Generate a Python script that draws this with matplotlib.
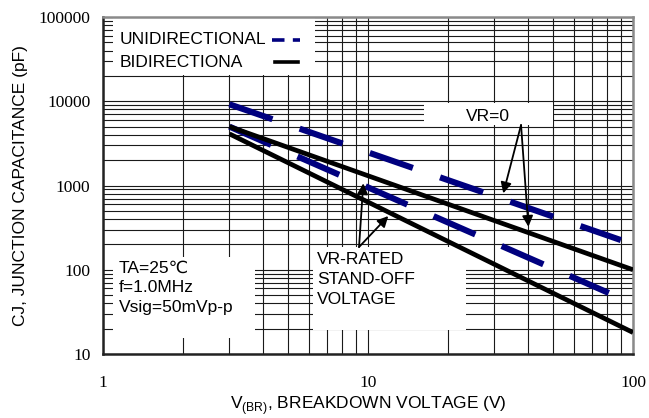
import matplotlib
matplotlib.use("Agg")
import matplotlib.pyplot as plt
from matplotlib.lines import Line2D
from matplotlib.patches import Rectangle
from matplotlib.ticker import LogLocator, NullFormatter, FixedFormatter, FixedLocator

plt.rcParams['font.family'] = ['Liberation Sans', 'DejaVu Sans']
plt.rcParams['mathtext.fontset'] = 'custom'
plt.rcParams['mathtext.rm'] = 'Liberation Sans'
plt.rcParams['lines.scale_dashes'] = False

# data (end points of the straight log-log lines)
uni_vr0_x = [3, 90]
uni_vr0_y = [9200, 225]
uni_rated_x = [3, 81]
uni_rated_y = [5000, 53]
bi_vr0_x = [3, 100]
bi_vr0_y = [5000, 100]
bi_rated_x = [3, 100]
bi_rated_y = [4100, 18]

x_ticks = [1, 10, 100]
x_tick_labels = ["1", "10", "100"]
y_ticks = [10, 100, 1000, 10000, 100000]
y_tick_labels = ["10", "100", "1000", "10000", "100000"]
legend_labels = ["UNIDIRECTIONAL", "BIDIRECTIONA"]

fig = plt.figure(figsize=(6.49, 4.18), dpi=100)
ax = fig.add_axes([103 / 649, 64 / 418, 530 / 649, 337 / 418])
ax.set_xscale("log")
ax.set_yscale("log")
ax.set_xlim(1, 100)
ax.set_ylim(10, 100000)

# grid at every 1..9 of each decade
ax.xaxis.set_major_locator(FixedLocator(x_ticks))
ax.xaxis.set_major_formatter(FixedFormatter(x_tick_labels))
ax.xaxis.set_minor_locator(LogLocator(base=10, subs=range(2, 10)))
ax.xaxis.set_minor_formatter(NullFormatter())
ax.yaxis.set_major_locator(FixedLocator(y_ticks))
ax.yaxis.set_major_formatter(FixedFormatter(y_tick_labels))
ax.yaxis.set_minor_locator(LogLocator(base=10, subs=range(2, 10)))
ax.yaxis.set_minor_formatter(NullFormatter())
ax.grid(True, which="both", color="#1a1a1a", lw=0.8)
ax.set_axisbelow(True)
ax.tick_params(which="both", length=0)
ax.tick_params(axis="x", pad=15)
ax.tick_params(axis="y", pad=9)
for lab in ax.get_xticklabels() + ax.get_yticklabels():
    lab.set_fontfamily("Liberation Serif")
    lab.set_fontsize(12.5)

for side in ["left", "bottom"]:
    ax.spines[side].set_linewidth(1.8)
    ax.spines[side].set_color("#222222")
for side in ["top", "right"]:
    ax.spines[side].set_linewidth(1.8)
    ax.spines[side].set_color("#8a8a8a")

# white masks behind the text blocks (they hide the grid)
masks = [(0.018, 0.828, 0.382, 0.172),
         (0.606, 0.6795, 0.243, 0.066),
         (0.396, 0.071, 0.289, 0.247),
         (0.018, 0.047, 0.269, 0.241)]
for mx, my, mw, mh in masks:
    ax.add_patch(Rectangle((mx, my), mw, mh, transform=ax.transAxes,
                           facecolor="white", edgecolor="none", zorder=1))

navy = "#00007f"
dash = (32.8, 20.7)
ax.plot(uni_vr0_x, uni_vr0_y, color=navy, lw=4.4, dashes=dash,
        dash_capstyle="butt", zorder=3)
ax.plot(uni_rated_x, uni_rated_y, color=navy, lw=4.4, dashes=dash,
        dash_capstyle="butt", zorder=3)
ax.plot(bi_vr0_x, bi_vr0_y, color="black", lw=3.4, solid_capstyle="butt", zorder=3)
ax.plot(bi_rated_x, bi_rated_y, color="black", lw=3.4, solid_capstyle="butt", zorder=3)

# legend: left-aligned labels with the key samples on the right
ax.text(0.032, 0.932, legend_labels[0], transform=ax.transAxes,
        ha="left", va="center", fontsize=12.5, zorder=4)
ax.text(0.032, 0.866, legend_labels[1], transform=ax.transAxes,
        ha="left", va="center", fontsize=12.5, zorder=4)
ax.add_line(Line2D([0.318, 0.372], [0.932, 0.932], transform=ax.transAxes,
                   color=navy, lw=2.6, dashes=(9, 6), zorder=4))
ax.add_line(Line2D([0.324, 0.368], [0.866, 0.866], transform=ax.transAxes,
                   color="black", lw=2.6, zorder=4))

# annotations
arrow = dict(arrowstyle="-|>", color="black", lw=1.3, mutation_scale=16,
             shrinkA=0, shrinkB=0)
ax.text(0.7264, 0.706, "VR=0", transform=ax.transAxes, ha="center",
        va="center", fontsize=12.5, zorder=4)
for tip in [(32.4, 807), (40.3, 324)]:
    ax.annotate("", xy=tip, xytext=(37.8, 5220), arrowprops=arrow, zorder=4)

ax.text(0.404, 0.303, "VR-RATED\nSTAND-OFF\nVOLTAGE", transform=ax.transAxes,
        ha="left", va="top", fontsize=12.5, linespacing=1.42, zorder=4)
for tip in [(9.6, 1062), (11.93, 434)]:
    ax.annotate("", xy=tip, xytext=(9.25, 186), arrowprops=arrow, zorder=4)

ax.text(0.0302, 0.278, "TA=25\u2103\nf=1.0MHz\nVsig=50mVp-p",
        transform=ax.transAxes, ha="left", va="top", fontsize=12.5,
        linespacing=1.42, zorder=4)

ax.set_xlabel(r"V$_{\mathrm{(BR)}}$, BREAKDOWN VOLTAGE (V)", fontsize=12.5)
ax.xaxis.set_label_coords(0.5, -0.12)
ax.set_ylabel("CJ, JUNCTION CAPACITANCE (pF)", fontsize=12.5)
ax.yaxis.set_label_coords(-0.142, 0.5)

fig.savefig("out.png", dpi=100)
